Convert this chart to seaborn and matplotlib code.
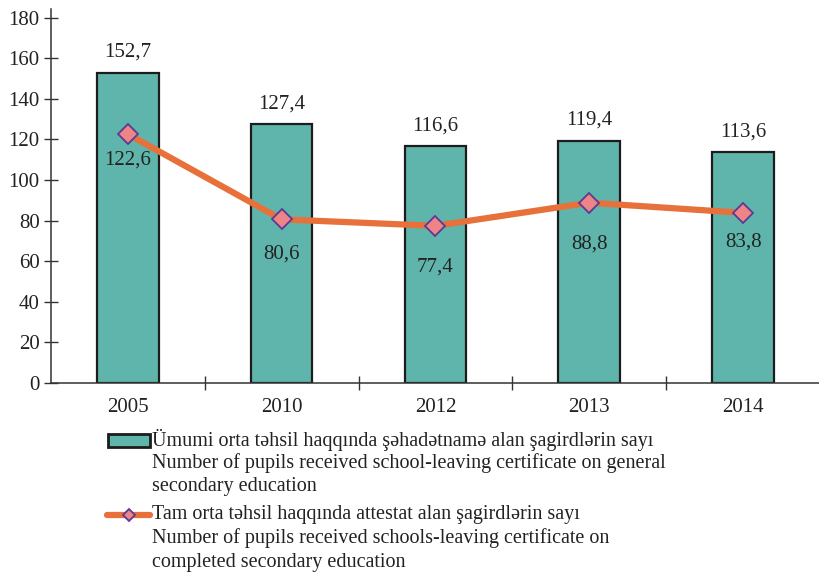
import matplotlib
matplotlib.use("Agg")
import matplotlib.pyplot as plt
import seaborn as sns
from matplotlib.patches import Rectangle
from matplotlib.lines import Line2D

# data
years = ["2005", "2010", "2012", "2013", "2014"]
general_cert = [152.7, 127.4, 116.6, 119.4, 113.6]
complete_cert = [122.6, 80.6, 77.4, 88.8, 83.8]
y_ticks = [0, 20, 40, 60, 80, 100, 120, 140, 160, 180]

legend_bar = ["Ümumi orta təhsil haqqında şəhadətnamə alan şagirdlərin sayı",
              "Number of pupils received school-leaving certificate on general",
              "secondary education"]
legend_line = ["Tam orta təhsil haqqında attestat alan şagirdlərin sayı",
               "Number of pupils received schools-leaving certificate on",
               "completed secondary education"]

BAR_COLOR = "#5fb5ab"
LINE_COLOR = "#e8703a"
MARK_FACE = "#ee8486"
MARK_EDGE = "#5b3a96"
TEXT_COLOR = "#222222"
FS = 15

sns.set_style("white")
plt.rcParams["font.family"] = ["Liberation Serif", "DejaVu Serif"]

fig = plt.figure(figsize=(8.2, 5.73), dpi=100)
ax = fig.add_axes([0.062, 0.3316, 0.938, 0.652])

sns.barplot(x=years, y=general_cert, color=BAR_COLOR, saturation=1,
            width=0.40, edgecolor="#1c1c1c", linewidth=1.6, ax=ax)
ax.plot(range(len(years)), complete_cert, color=LINE_COLOR, lw=4.5,
        marker="D", markersize=10, markerfacecolor=MARK_FACE,
        markeredgecolor=MARK_EDGE, markeredgewidth=1.3, zorder=5,
        solid_capstyle="round")

# value labels
for i, v in enumerate(general_cert):
    ax.annotate(f"{v:.1f}".replace(".", ","), (i, v), xytext=(0, 8),
                textcoords="offset points", ha="center", va="bottom",
                fontsize=FS, color=TEXT_COLOR)
line_offsets = [-19, -25, -30, -30, -21]
for i, v in enumerate(complete_cert):
    ax.annotate(f"{v:.1f}".replace(".", ","), (i, v),
                xytext=(0, line_offsets[i]), textcoords="offset points",
                ha="center", va="center", fontsize=FS, color=TEXT_COLOR)

ax.set_xlim(-0.5, len(years) - 0.5)
ax.set_ylim(0, 184)
ax.set_yticks(y_ticks)
ax.set_yticklabels([str(t) for t in y_ticks], fontsize=FS, color=TEXT_COLOR)
ax.set_xticks(range(len(years)))
ax.set_xticklabels(years, fontsize=FS, color=TEXT_COLOR)
ax.set_xticks([k + 0.5 for k in range(len(years) - 1)], minor=True)
ax.tick_params(axis="x", which="major", bottom=True, length=0, pad=11)
ax.tick_params(axis="x", which="minor", bottom=True, direction="inout",
               length=10, width=1.0, color="#333333")
ax.tick_params(axis="y", left=True, direction="inout", length=10, width=1.0,
               color="#333333", pad=3)
sns.despine(ax=ax, top=True, right=True)
for s in ["left", "bottom"]:
    ax.spines[s].set_color("#333333")
    ax.spines[s].set_linewidth(1.1)

# legend drawn by hand so the key sits on the first line of each label
W, H = 820, 573
def fx(px):
    return px / W
def fy(py):
    return 1 - py / H

fig.patches.append(Rectangle((fx(108), fy(447)), fx(42), 13 / H,
                             transform=fig.transFigure, facecolor=BAR_COLOR,
                             edgecolor="#1c1c1c", linewidth=2.0))
fig.lines.append(Line2D([fx(107), fx(150)], [fy(515), fy(515)],
                        transform=fig.transFigure, color=LINE_COLOR, lw=4.5,
                        marker=None, solid_capstyle="round"))
fig.lines.append(Line2D([fx(129)], [fy(515)], transform=fig.transFigure,
                        marker="D", markersize=6, markerfacecolor=MARK_FACE,
                        markeredgecolor=MARK_EDGE, markeredgewidth=1.3))

for j, line in enumerate(legend_bar):
    fig.text(fx(152), fy(440 + j * 23.5), line, fontsize=14.5,
             color=TEXT_COLOR, va="center", ha="left")
for j, line in enumerate(legend_line):
    fig.text(fx(152), fy(515 + j * 23.5), line, fontsize=14.5,
             color=TEXT_COLOR, va="center", ha="left")

fig.savefig("out.png", dpi=100)
